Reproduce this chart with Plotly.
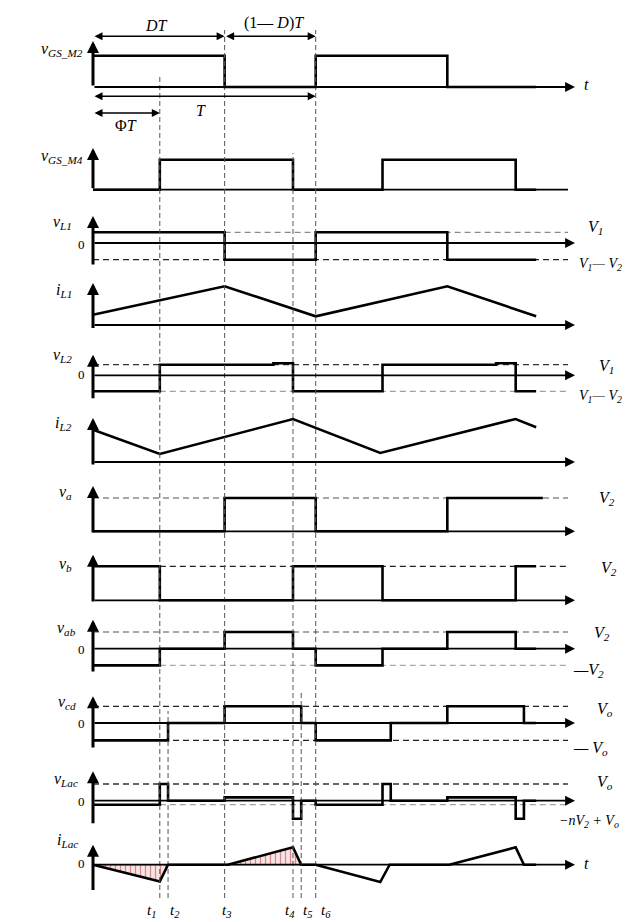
import plotly.graph_objects as go

# ---------------- data (time in units of the switching period T) ----------------
PHI = 0.300          # phase shift -> t1
D = 0.591            # duty ratio  -> t3

event_labels = ["t<sub>1</sub>", "t<sub>2</sub>", "t<sub>3</sub>",
                "t<sub>4</sub>", "t<sub>5</sub>", "t<sub>6</sub>"]
event_times = [0.300, 0.337, 0.591, 0.898, 0.935, 1.000]

vgs_m2_t = [0, 0.591, 1.0, 1.591, 1.99]
vgs_m2_v = [1, 0, 1, 0, 0]

vgs_m4_t = [0, 0.300, 0.898, 1.300, 1.898, 1.99]
vgs_m4_v = [0, 1, 0, 1, 0, 0]

vl1_t = [0, 0.591, 1.0, 1.591, 1.99]
vl1_v = [1, -1.56, 1, -1.56, -1.56]

il1_t = [0, 0.591, 1.0, 1.591, 1.99]
il1_v = [1.03, 3.87, 0.87, 3.87, 0.87]

vl2_t = [0, 0.300, 0.810, 0.898, 1.300, 1.810, 1.898, 1.99]
vl2_v = [-1.51, 1, 1.13, -1.51, 1, 1.13, -1.51, -1.51]

il2_t = [0, 0.300, 0.898, 1.290, 1.898, 1.99]
il2_v = [3.23, 0.80, 4.30, 0.90, 4.30, 3.47]

va_t = [0, 0.591, 1.0, 1.591, 2.02]
va_v = [0, 1, 0, 1, 1]

vb_t = [0, 0.300, 0.898, 1.300, 1.898, 1.99]
vb_v = [1, 0, 1, 0, 1, 1]

vab_t = [0, 0.300, 0.591, 0.898, 1.0, 1.300, 1.591, 1.898, 1.99]
vab_v = [-1, 0, 1, 0, -1, 0, 1, 0, 0]

vcd_t = [0, 0.337, 0.591, 0.935, 1.0, 1.337, 1.591, 1.935, 1.99]
vcd_v = [-1.04, 0, 1, 0, -1.04, 0, 1, 0, 0]

vlac_t = [0, 0.300, 0.337, 0.591, 0.898, 0.935, 1.0, 1.300, 1.337, 1.591, 1.898, 1.935, 1.99]
vlac_v = [-0.24, 1, 0, 0.2, -1.08, 0, -0.24, 1, 0, 0.2, -1.08, 0, 0]

ilac_t = [0, 0.300, 0.337, 0.606, 0.898, 0.935, 1.0, 1.290, 1.332, 1.600, 1.898, 1.935, 1.99]
ilac_v = [0, -1.0, 0, 0, 1.04, 0, 0, -1.04, 0, 0, 1.04, 0, 0]

# ---------------- geometry ----------------
W, H = 635, 922
X0_PX, T_PX = 85.0, 222.7
T_AXIS_END = (567 - X0_PX) / T_PX
T_REF_END = (560 - X0_PX) / T_PX


def xp(px):
    return px / W


def yp(py):
    return 1 - py / H


SERIF = "Liberation Serif, Times New Roman, serif"

# panel: zero pixel row, pixels per unit, y-range, vertical-axis extent, arrow on t-axis
panels = [
    dict(zero=79.0, unit=31.3, lo=-0.4, hi=1.6, a0=0.0, a1=1.47, head=True),
    dict(zero=181.7, unit=30.0, lo=-0.3, hi=1.5, a0=0.0, a1=1.39, head=False),
    dict(zero=235.0, unit=10.7, lo=-2.4, hi=2.8, a0=-2.15, a1=2.52, head=True),
    dict(zero=317.0, unit=10.0, lo=-0.6, hi=4.5, a0=-0.45, a1=4.2, head=True),
    dict(zero=367.3, unit=10.6, lo=-2.6, hi=2.1, a0=-2.3, a1=1.94, head=True),
    dict(zero=454.0, unit=10.0, lo=-0.6, hi=4.7, a0=-0.4, a1=4.4, head=True),
    dict(zero=523.3, unit=33.3, lo=-0.2, hi=1.45, a0=-0.08, a1=1.36, head=True),
    dict(zero=592.3, unit=34.0, lo=-0.2, hi=1.42, a0=-0.08, a1=1.34, head=True),
    dict(zero=640.7, unit=16.7, lo=-1.6, hi=1.85, a0=-1.46, a1=1.74, head=True),
    dict(zero=715.0, unit=16.7, lo=-1.7, hi=1.7, a0=-1.55, a1=1.6, head=True),
    dict(zero=792.7, unit=16.7, lo=-1.6, hi=1.85, a0=-1.44, a1=1.76, head=True),
    dict(zero=856.7, unit=16.7, lo=-1.8, hi=1.3, a0=-1.6, a1=1.2, head=True),
]

waves = [
    (vgs_m2_t, vgs_m2_v, "hv"),
    (vgs_m4_t, vgs_m4_v, "hv"),
    (vl1_t, vl1_v, "hv"),
    (il1_t, il1_v, "linear"),
    (vl2_t, vl2_v, "hv"),
    (il2_t, il2_v, "linear"),
    (va_t, va_v, "hv"),
    (vb_t, vb_v, "hv"),
    (vab_t, vab_v, "hv"),
    (vcd_t, vcd_v, "hv"),
    (vlac_t, vlac_v, "hv"),
    (ilac_t, ilac_v, "linear"),
]

# reference (dashed) levels: panel index, value, start time, colour
ref_levels = [
    (2, 1.0, D, "#8a8a8a"), (2, -1.56, 0.0, "#222222"),
    (4, 1.0, 0.0, "#333333"), (4, -1.51, PHI, "#a0a0a0"),
    (6, 1.0, 0.0, "#8a8a8a"),
    (7, 1.0, PHI, "#222222"),
    (8, 1.0, 0.0, "#8a8a8a"), (8, -1.0, PHI, "#a8a8a8"),
    (9, 1.0, 0.0, "#222222"), (9, -1.04, 0.0, "#222222"),
    (10, 1.0, 0.0, "#333333"), (10, -0.24, PHI, "#a0a0a0"),
]


def yref(i):
    return "y" if i == 0 else f"y{i + 1}"


fig = go.Figure()
layout = dict(
    width=W, height=H, margin=dict(l=0, r=0, t=0, b=0),
    paper_bgcolor="white", plot_bgcolor="rgba(0,0,0,0)", showlegend=False,
    xaxis=dict(range=[-X0_PX / T_PX, (W - X0_PX) / T_PX], domain=[0, 1],
               visible=False, fixedrange=True),
)
for i, p in enumerate(panels):
    d0 = yp(p["zero"] - p["lo"] * p["unit"])
    d1 = yp(p["zero"] - p["hi"] * p["unit"])
    key = "yaxis" if i == 0 else f"yaxis{i + 1}"
    layout[key] = dict(domain=[d0, d1], range=[p["lo"], p["hi"]], visible=False,
                       anchor="x", fixedrange=True)
fig.update_layout(**layout)

# hatched areas of i_Lac in the first period
neg_x = ilac_t[0:3] + [ilac_t[0]]
neg_y = ilac_v[0:3] + [ilac_v[0]]
pos_x = ilac_t[3:6] + [ilac_t[3]]
pos_y = ilac_v[3:6] + [ilac_v[3]]
for fx, fy in ((neg_x, neg_y), (pos_x, pos_y)):
    fig.add_trace(go.Scatter(
        x=fx, y=fy, yaxis=yref(11), mode="lines", fill="toself",
        line=dict(width=0.8, color="#7a2020"),
        fillcolor="rgba(245,215,215,1)",
        fillpattern=dict(shape="|", fgcolor="#b03030", bgcolor="#f8e4e4",
                         size=5, solidity=0.25),
        hoverinfo="skip"))

# dashed reference levels
for pi, val, t0, col in ref_levels:
    fig.add_trace(go.Scatter(
        x=[t0, T_REF_END], y=[val, val], yaxis=yref(pi), mode="lines",
        line=dict(color=col, width=1.3, dash="6px,4px"), hoverinfo="skip"))

# waveforms
for i, (tt, vv, shape) in enumerate(waves):
    fig.add_trace(go.Scatter(
        x=tt, y=vv, yaxis=yref(i), mode="lines",
        line=dict(color="black", width=2.6, shape=shape), hoverinfo="skip"))

# horizontal zero line for panel 2 (no arrow head)
fig.add_trace(go.Scatter(x=[0, T_REF_END], y=[0, 0], yaxis=yref(1), mode="lines",
                         line=dict(color="black", width=1.8), hoverinfo="skip"))

annotations = []
# axes drawn as arrows
for i, p in enumerate(panels):
    yr = yref(i)
    annotations.append(dict(x=0, y=p["a1"], ax=0, ay=p["a0"], xref="x", yref=yr,
                            axref="x", ayref=yr, text="", showarrow=True,
                            arrowhead=2, arrowsize=0.8, arrowwidth=3, arrowcolor="black"))
    if p["head"]:
        annotations.append(dict(x=T_AXIS_END, y=0, ax=0, ay=0, xref="x", yref=yr,
                                axref="x", ayref=yr, text="", showarrow=True,
                                arrowhead=2, arrowsize=1.1, arrowwidth=1.8,
                                arrowcolor="black"))

# timing dimension arrows (top)
dims = [
    (0.0, D, 28.3), (D, 1.0, 28.3), (0.0, 1.0, 88.3), (0.0, PHI, 105.0),
]
for a, b, py in dims:
    annotations.append(dict(x=b, y=yp(py), ax=a, ay=0, xref="x", yref="paper",
                            axref="x", ayref="pixel", text="", showarrow=True,
                            arrowhead=2, startarrowhead=2, arrowside="end+start",
                            arrowsize=1.0, startarrowsize=1.0, arrowwidth=1.6,
                            arrowcolor="black"))


def txt(s, x, y, size=16, xanchor="center", italic=True):
    annotations.append(dict(
        text=(f"<i>{s}</i>" if italic else s), x=xp(x), y=yp(y), xref="paper",
        yref="paper", showarrow=False, xanchor=xanchor, yanchor="middle",
        font=dict(family=SERIF, size=size, color="black")))


txt("DT", 148, 17)
txt("(1— <i>D</i>)<i>T</i>", 266, 15, italic=False)
txt("T", 193, 102)
txt("Φ<i>T</i>", 118, 118, italic=False)
txt("t", 578, 77)
txt("t", 578, 855)

# left labels
left = [
    ("v<sub>GS_M2</sub>", 77, 42), ("v<sub>GS_M4</sub>", 77, 148),
    ("v<sub>L1</sub>", 66, 215), ("i<sub>L1</sub>", 66, 282),
    ("v<sub>L2</sub>", 66, 347), ("i<sub>L2</sub>", 66, 415),
    ("v<sub>a</sub>", 66, 484), ("v<sub>b</sub>", 66, 556),
    ("v<sub>ab</sub>", 70, 620), ("v<sub>cd</sub>", 70, 694),
    ("v<sub>Lac</sub>", 72, 771), ("i<sub>Lac</sub>", 72, 832),
]
for s, x, y in left:
    txt(s, x, y, size=16, xanchor="right")

for y0 in (236.7, 366.7, 641.7, 715.0, 793.3, 855.0):
    txt("0", 73, y0, size=13, italic=False)

# right labels
right = [
    ("V<sub>1</sub>", 578, 219, 16), ("V<sub>1</sub>— V<sub>2</sub>", 569, 257, 14),
    ("V<sub>1</sub>", 589, 358, 16), ("V<sub>1</sub>— V<sub>2</sub>", 569, 388, 14),
    ("V<sub>2</sub>", 589, 490, 16), ("V<sub>2</sub>", 591, 560, 16),
    ("V<sub>2</sub>", 584, 625, 16), ("—V<sub>2</sub>", 563, 662, 16),
    ("V<sub>o</sub>", 587, 701, 16), ("— V<sub>o</sub>", 563, 740, 16),
    ("V<sub>o</sub>", 587, 774, 16), ("−nV<sub>2</sub> + V<sub>o</sub>", 549, 813, 14),
]
for s, x, y, fs in right:
    txt(s, x, y, size=fs, xanchor="left")

# event time labels along the bottom
label_px = [143, 167, 218, 282, 299, 318]
for s, x in zip(event_labels, label_px):
    txt(s, x, 903, size=15)

fig.update_layout(annotations=annotations)

# vertical dashed event lines
line_tops = [68, 703, 22, 145, 683, 22]
shapes = []
for t, top in zip(event_times, line_tops):
    shapes.append(dict(type="line", xref="x", yref="paper", x0=t, x1=t,
                       y0=yp(890), y1=yp(top),
                       line=dict(color="#555555", width=1, dash="5px,3px")))
fig.update_layout(shapes=shapes)

fig.write_html("out.html")
